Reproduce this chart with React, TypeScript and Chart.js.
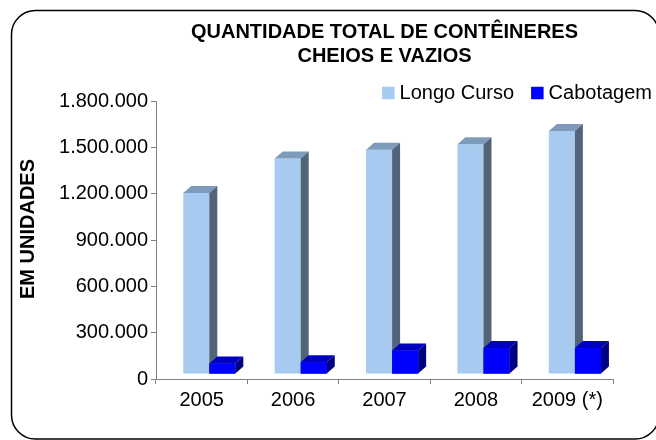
import React, { useEffect, useRef } from 'react';
import { Chart, registerables } from 'chart.js';

Chart.register(...registerables);

// ---- data ----
const YEARS: string[] = ['2005', '2006', '2007', '2008', '2009 (*)'];
const LONGO_CURSO: number[] = [1205000, 1428000, 1484000, 1520000, 1606000];
const CABOTAGEM: number[] = [101000, 109000, 185000, 200000, 200000];
const SERIES_NAMES: string[] = ['Longo Curso', 'Cabotagem'];
const TITLE_LINES: string[] = ['QUANTIDADE TOTAL DE CONTÊINERES', 'CHEIOS E VAZIOS'];
const Y_TITLE = 'EM UNIDADES';
const Y_MIN = 0;
const Y_MAX = 1800000;
const Y_STEP = 300000;

// ---- style ----
const FONT = "'Liberation Sans', Arial, Helvetica, sans-serif";
const FLOOR = 35000; // raised 3D floor of the bars
const DX = 8;
const DY = 7;
const FACES = [
  { front: '#A6CAF0', top: '#7F9BBB', side: '#536479' },
  { front: '#0000FF', top: '#0000C0', side: '#000080' },
];
const AXIS_GRAY = '#808080';

const fmt = (v: number | string) =>
  String(v).replace(/\B(?=(\d{3})+(?!\d))/g, '.');

function poly(ctx: CanvasRenderingContext2D, pts: number[][], color: string) {
  ctx.beginPath();
  ctx.moveTo(pts[0][0], pts[0][1]);
  for (let i = 1; i < pts.length; i++) ctx.lineTo(pts[i][0], pts[i][1]);
  ctx.closePath();
  ctx.fillStyle = color;
  ctx.fill();
}

const framePlugin = {
  id: 'frame',
  beforeDraw(chart: any) {
    const ctx = chart.ctx as CanvasRenderingContext2D;
    ctx.save();
    ctx.fillStyle = '#ffffff';
    ctx.fillRect(0, 0, chart.width, chart.height);
    ctx.lineWidth = 1.5;
    ctx.strokeStyle = '#000000';
    ctx.beginPath();
    (ctx as any).roundRect(11.5, 10.5, 647.5, 428.5, 24);
    ctx.stroke();
    ctx.restore();
  },
};

const threeDPlugin = {
  id: 'threeD',
  afterDatasetsDraw(chart: any) {
    const ctx = chart.ctx as CanvasRenderingContext2D;
    const metas = chart.data.datasets.map((_: any, d: number) => chart.getDatasetMeta(d));
    ctx.save();
    for (let i = 0; i < YEARS.length; i++) {
      metas.forEach((meta: any, d: number) => {
        const el = meta.data[i];
        if (!el) return;
        const { x, y, base, width } = el.getProps(['x', 'y', 'base', 'width'], true);
        const l = x - width / 2;
        const r = x + width / 2;
        if (d > 0) el.draw(ctx);
        const f = FACES[d];
        poly(ctx, [[l, y], [l + DX, y - DY], [r + DX, y - DY], [r, y]], f.top);
        poly(ctx, [[r, y], [r + DX, y - DY], [r + DX, base - DY], [r, base]], f.side);
      });
    }
    ctx.restore();
  },
};

const legendPlugin = {
  id: 'customLegend',
  afterDraw(chart: any) {
    const ctx = chart.ctx as CanvasRenderingContext2D;
    ctx.save();
    ctx.font = `20px ${FONT}`;
    ctx.textBaseline = 'middle';
    ctx.textAlign = 'left';
    const endX = 652;
    const cy = 93;
    const box = 12.5;
    const gap = 5;
    const itemGap = 17;
    const items = chart.data.datasets.map((ds: any) => ({ text: ds.label, color: ds.backgroundColor }));
    let x = endX;
    for (let k = items.length - 1; k >= 0; k--) {
      const w = ctx.measureText(items[k].text).width;
      const tx = x - w;
      ctx.fillStyle = '#000';
      ctx.fillText(items[k].text, tx, cy);
      const bx = tx - gap - box;
      ctx.fillStyle = items[k].color;
      ctx.fillRect(bx, cy - box / 2, box, box);
      x = bx - itemGap;
    }
    ctx.restore();
  },
};

const yTitlePlugin = {
  id: 'yTitle',
  afterDraw(chart: any) {
    const ctx = chart.ctx as CanvasRenderingContext2D;
    ctx.save();
    ctx.translate(28, 229);
    ctx.rotate(-Math.PI / 2);
    ctx.font = `bold 20px ${FONT}`;
    ctx.fillStyle = '#000';
    ctx.textAlign = 'center';
    ctx.textBaseline = 'middle';
    ctx.fillText(Y_TITLE, 0, 0);
    ctx.restore();
  },
};

export default function App() {
  const canvasRef = useRef<HTMLCanvasElement | null>(null);

  useEffect(() => {
    if (!canvasRef.current) return;
    const chart = new Chart(canvasRef.current, {
      type: 'bar',
      data: {
        labels: YEARS,
        datasets: [
          {
            label: SERIES_NAMES[0],
            data: LONGO_CURSO.map((v, i) => ({ x: i, y: v })),
            backgroundColor: FACES[0].front,
            borderWidth: 0,
            xAxisID: 'xb',
            base: FLOOR,
          } as any,
          {
            label: SERIES_NAMES[1],
            data: CABOTAGEM.map((v, i) => ({ x: i, y: v })),
            backgroundColor: FACES[1].front,
            borderWidth: 0,
            xAxisID: 'xb',
            base: FLOOR,
          } as any,
        ],
      },
      options: {
        responsive: false,
        animation: false,
        devicePixelRatio: 1,
        categoryPercentage: 0.57,
        barPercentage: 1,
        layout: { padding: { left: 0, right: 43, top: 0, bottom: 0 } },
        plugins: {
          legend: { display: false },
          tooltip: { enabled: false },
          title: {
            display: true,
            text: TITLE_LINES,
            fullSize: false,
            color: '#000',
            font: { family: FONT, size: 20, weight: 'bold', lineHeight: 1.2 },
            padding: { top: 20, bottom: 33 },
          },
        },
        scales: {
          x: {
            type: 'category',
            offset: true,
            grid: {
              display: true,
              offset: true,
              drawOnChartArea: false,
              drawTicks: true,
              tickLength: 5,
              color: AXIS_GRAY,
            },
            border: { display: true, color: AXIS_GRAY },
            ticks: {
              color: '#000',
              font: { family: FONT, size: 20 },
              padding: 4,
              maxRotation: 0,
              autoSkip: false,
            },
            afterFit: (s: any) => {
              s.height = 61;
            },
          },
          xb: {
            type: 'linear',
            display: false,
            offset: false,
            min: -0.583,
            max: 4.417,
          },
          y: {
            min: Y_MIN,
            max: Y_MAX,
            ticks: {
              stepSize: Y_STEP,
              callback: (v: any) => fmt(v),
              padding: 3,
              color: '#000',
              font: { family: FONT, size: 20 },
            },
            grid: {
              drawOnChartArea: false,
              tickLength: 5,
              color: AXIS_GRAY,
            },
            border: { display: true, color: AXIS_GRAY },
            title: { display: false, text: Y_TITLE },
            afterFit: (s: any) => {
              s.width = 156;
            },
          },
        },
      } as any,
      plugins: [framePlugin, threeDPlugin, legendPlugin, yTitlePlugin],
    });
    return () => chart.destroy();
  }, []);

  return (
    <div
      style={{
        position: 'fixed',
        left: 0,
        top: 0,
        width: 656,
        height: 440,
        overflow: 'hidden',
        background: '#fff',
      }}
    >
      <canvas
        ref={canvasRef}
        width={656}
        height={440}
        style={{ display: 'block', width: 656, height: 440 }}
      />
    </div>
  );
}
